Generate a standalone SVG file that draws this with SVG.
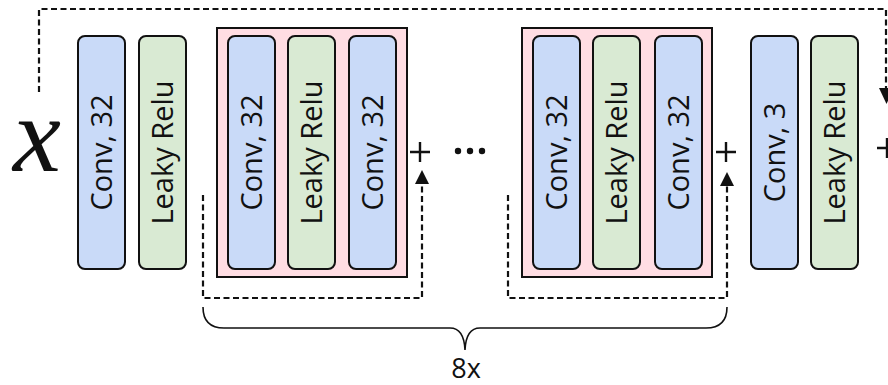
<svg xmlns="http://www.w3.org/2000/svg" width="888" height="385" viewBox="0 0 888 385">
<defs>
<style>
.conv{fill:#c9daf8;stroke:#111;stroke-width:2}
.relu{fill:#d9ead3;stroke:#111;stroke-width:2}
.blk{fill:#ffdde3;stroke:#111;stroke-width:2}
.lbl{font-family:"Open Sans","DejaVu Sans",sans-serif;font-size:29px;fill:#111;text-anchor:middle}
.dash{fill:none;stroke:#111;stroke-width:2.2;stroke-dasharray:6,3.5}
.solid{fill:none;stroke:#111;stroke-width:2.4}
.arrow{fill:#111}
</style>
</defs>
<rect width="888" height="385" fill="#fff"/>
<g id="input">
<text x="37" y="171" font-family="Liberation Serif, serif" font-style="italic" font-size="108" text-anchor="middle" fill="#111">x</text>
</g>
<g id="conv1"><rect class="conv" x="78" y="36" width="47" height="233" rx="7"/><text class="lbl" transform="translate(101.5,152.5) rotate(-90)" dy="0.36em">Conv, 32</text></g>
<g id="relu1"><rect class="relu" x="139" y="36" width="47" height="233" rx="7"/><text class="lbl" transform="translate(162.5,152.5) rotate(-90)" dy="0.36em">Leaky Relu</text></g>
<g id="block1">
<rect class="blk" x="217" y="28" width="190" height="249"/>
<rect class="conv" x="228" y="36" width="47" height="233" rx="7"/><text class="lbl" transform="translate(251.5,152.5) rotate(-90)" dy="0.36em">Conv, 32</text>
<rect class="relu" x="288" y="36" width="47" height="233" rx="7"/><text class="lbl" transform="translate(311.5,152.5) rotate(-90)" dy="0.36em">Leaky Relu</text>
<rect class="conv" x="349" y="36" width="47" height="233" rx="7"/><text class="lbl" transform="translate(372.5,152.5) rotate(-90)" dy="0.36em">Conv, 32</text>
</g>
<g id="block2">
<rect class="blk" x="522" y="28" width="190" height="249"/>
<rect class="conv" x="533" y="36" width="47" height="233" rx="7"/><text class="lbl" transform="translate(556.5,152.5) rotate(-90)" dy="0.36em">Conv, 32</text>
<rect class="relu" x="593" y="36" width="47" height="233" rx="7"/><text class="lbl" transform="translate(616.5,152.5) rotate(-90)" dy="0.36em">Leaky Relu</text>
<rect class="conv" x="655" y="36" width="47" height="233" rx="7"/><text class="lbl" transform="translate(678.5,152.5) rotate(-90)" dy="0.36em">Conv, 32</text>
</g>
<g id="conv3"><rect class="conv" x="751" y="36" width="47" height="233" rx="7"/><text class="lbl" transform="translate(774.5,152.5) rotate(-90)" dy="0.36em">Conv, 3</text></g>
<g id="relu2"><rect class="relu" x="811" y="36" width="47" height="233" rx="7"/><text class="lbl" transform="translate(834.5,152.5) rotate(-90)" dy="0.36em">Leaky Relu</text></g>
<g id="sum1"><path class="solid" d="M410,152 H430 M420,142 V162"/></g>
<g id="dots"><circle cx="458" cy="151" r="3.2" fill="#111"/><circle cx="470" cy="151" r="3.2" fill="#111"/><circle cx="482" cy="151" r="3.2" fill="#111"/></g>
<g id="sum2"><path class="solid" d="M716,152 H736 M726,142 V162"/></g>
<g id="sum3"><path class="solid" d="M877,148 H897 M887,138 V158"/></g>
<g id="connectors">
<path class="dash" d="M39,92 V9 H886 V88"/>
<polygon class="arrow" points="879,88 894,88 886.5,104"/>
<path class="dash" d="M203,195 V298 H422 V184"/>
<polygon class="arrow" points="415,184 429,184 422,170"/>
<path class="dash" d="M508,195 V298 H727 V186"/>
<polygon class="arrow" points="720,186 734,186 727,172"/>
</g>
<g id="brace">
<path d="M203,307 Q203,328 224,328 L450,328 Q464,328 465,350 Q466,328 480,328 L706,328 Q727,328 727,307" fill="none" stroke="#111" stroke-width="1.6"/>
<text x="466" y="378" font-family="Open Sans, DejaVu Sans, sans-serif" font-size="27" text-anchor="middle" fill="#111">8x</text>
</g>
</svg>
